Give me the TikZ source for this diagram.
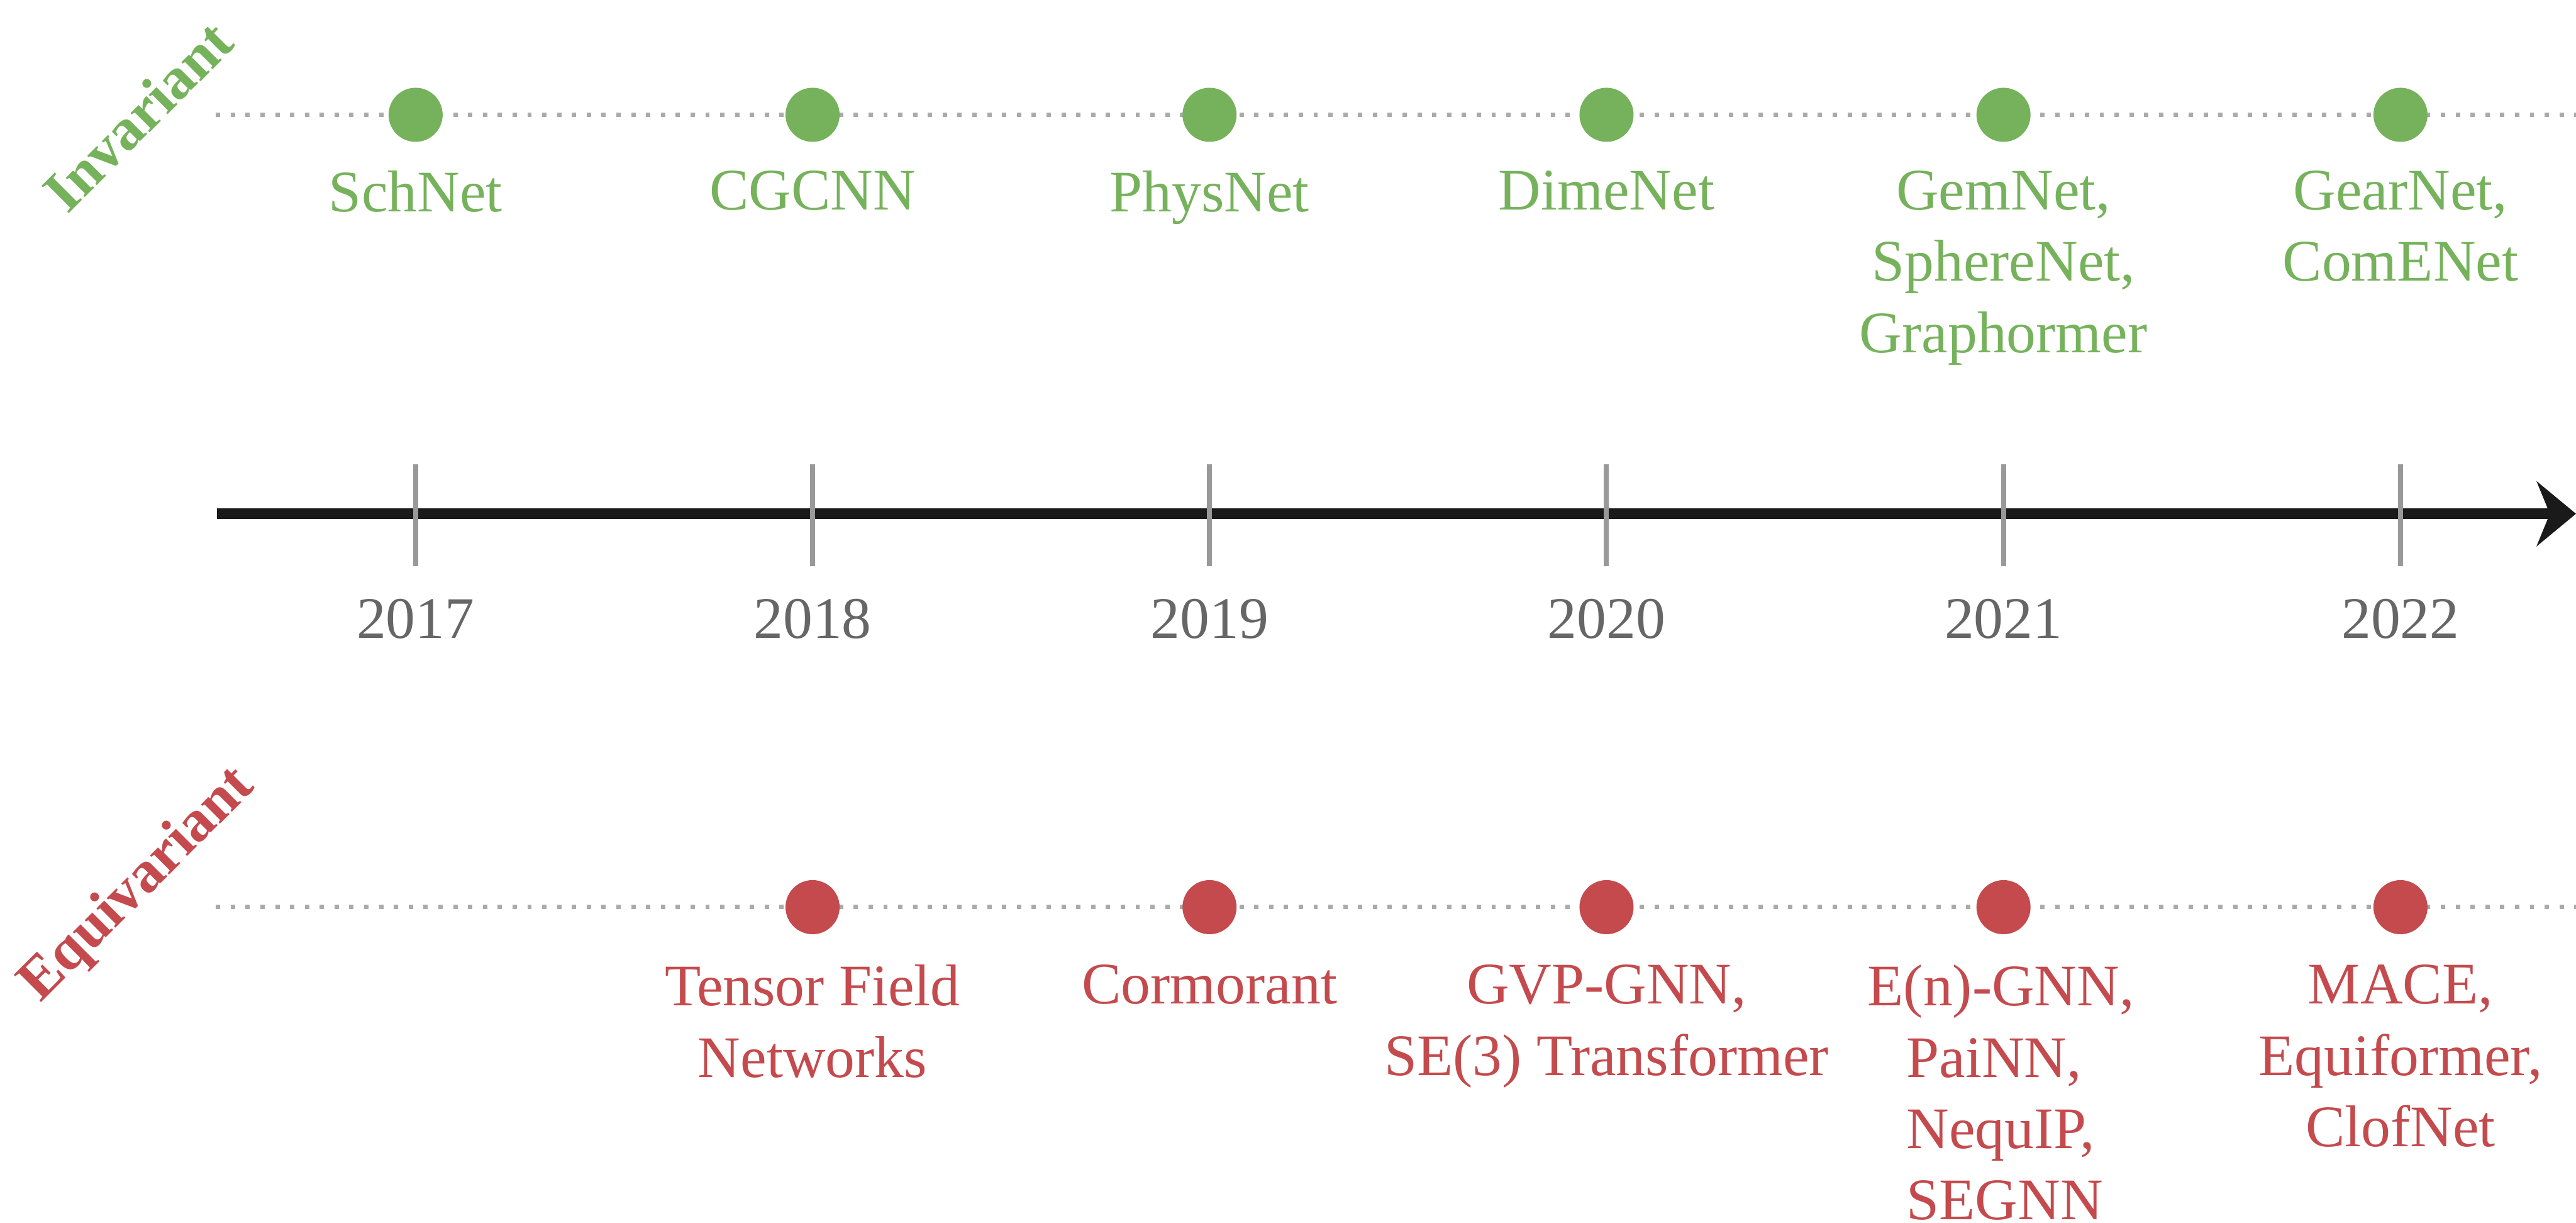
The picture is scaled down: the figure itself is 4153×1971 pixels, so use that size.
\documentclass[tikz,border=0pt]{standalone}
\usepackage{fontspec}
\setmainfont{Liberation Serif}
\usetikzlibrary{arrows.meta}
\definecolor{invgreen}{RGB}{118,178,92}
\definecolor{eqred}{RGB}{196,74,77}
\definecolor{yeargray}{RGB}{102,102,102}
\definecolor{tickgray}{RGB}{153,153,153}
\definecolor{dotgray}{RGB}{170,170,170}
\definecolor{axisblack}{RGB}{26,26,26}
\begin{document}
\begin{tikzpicture}[x=0.01cm,y=-0.01cm,
  every node/.style={inner sep=0pt, outer sep=0pt, font=\fontsize{27pt}{32.7pt}\selectfont},
  guide/.style={draw=dotgray, line width=2pt, dash pattern=on 2pt off 4.8pt},
  axisline/.style={draw=axisblack, line width=4.8pt, -{Stealth[length=18pt,width=29.6pt,inset=6pt]}},
  tickmark/.style={draw=tickgray, line width=2.3pt},
  yearlabel/.style={anchor=base, text=yeargray},
  invdot/.style={circle, fill=invgreen, minimum size=24.8pt},
  eqdot/.style={circle, fill=eqred, minimum size=24.8pt},
  invlabel/.style={anchor=north, align=center, text=invgreen},
  eqlabel/.style={anchor=north, align=center, text=eqred},
  category/.style={rotate=45, font=\fontsize{27pt}{32.7pt}\selectfont\bfseries}
]
\useasboundingbox (0,0) rectangle (4153,1971);

% category labels
\node[category, text=invgreen] (invcat) at (222,187) {Invariant};
\node[category, text=eqred] (eqcat) at (223,1427) {Equivariant};

% guide lines
\coordinate (invstart) at (348,185);
\coordinate (invend) at (4153,185);
\coordinate (eqstart) at (348,1462);
\coordinate (eqend) at (4153,1462);
\draw[guide] (invstart) -- (invend);
\draw[guide] (eqstart) -- (eqend);

% axis
\coordinate (axstart) at (350,828);
\coordinate (axend) at (4153,828);
\draw[axisline] (axstart) -- (axend);

% ticks and years
\foreach \x/\yr in {670/2017,1310/2018,1950/2019,2590/2020,3230/2021,3870/2022}{
  \coordinate (tt\yr) at (\x,748);
  \coordinate (tb\yr) at (\x,912);
  \draw[tickmark] (tt\yr) -- (tb\yr);
  \node[yearlabel] (y\yr) at (\x,1029) {\yr};
}

% invariant dots and labels
\foreach \x/\n in {670/a,1310/b,1950/c,2590/d,3230/e,3870/f}{
  \node[invdot] (inv\n) at (\x,185) {};
}
\node[invlabel] (invla) at (670,275) {SchNet};
\node[invlabel] (invlb) at (1310,275) {CGCNN};
\node[invlabel] (invlc) at (1950,275) {PhysNet};
\node[invlabel] (invld) at (2590,275) {DimeNet};
\node[invlabel] (invle) at (3230,275) {GemNet,\\SphereNet,\\Graphormer};
\node[invlabel] (invlf) at (3870,275) {GearNet,\\ComENet};

% equivariant dots and labels
\foreach \x/\n in {1310/b,1950/c,2590/d,3230/e,3870/f}{
  \node[eqdot] (eq\n) at (\x,1462) {};
}
\node[eqlabel] (eqlb) at (1310,1555) {Tensor Field\\Networks};
\node[eqlabel] (eqlc) at (1950,1555) {Cormorant};
\node[eqlabel] (eqld) at (2590,1555) {GVP-GNN,\\SE(3) Transformer};
\node[eqlabel, anchor=north west, align=left] (eqle) at (3011,1555) {E(n)-GNN,\\\hspace*{0.66em}PaiNN,\\\hspace*{0.66em}NequIP,\\\hspace*{0.66em}SEGNN};
\node[eqlabel] (eqlf) at (3870,1555) {MACE,\\Equiformer,\\ClofNet};
\end{tikzpicture}
\end{document}
